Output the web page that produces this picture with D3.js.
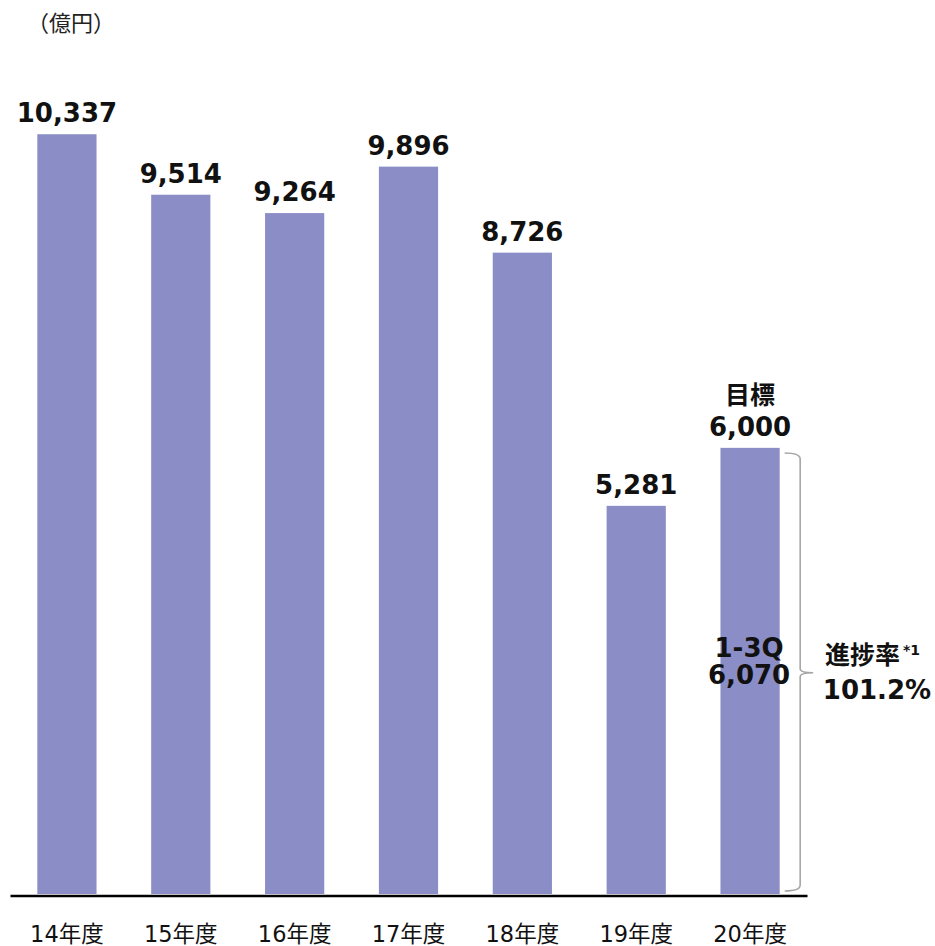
<!DOCTYPE html>
<html>
<head>
<meta charset="utf-8">
<script src="https://cdn.jsdelivr.net/npm/d3@7"></script>
<style>
html,body{margin:0;padding:0;background:#fff;}
svg{display:block;}
</style>
</head>
<body>
<svg id="chart" width="935" height="946"></svg>
<script>
const categories = ["14年度","15年度","16年度","17年度","18年度","19年度","20年度"];
const barValues = [10337, 9514, 9264, 9896, 8726, 5281, 6070];
const valueLabels = ["10,337","9,514","9,264","9,896","8,726","5,281","6,000"];
const targetValue = 6000;
const targetTitle = "目標";
const actualLabel = ["1-3Q", "6,070"];
const progressLabel = ["進捗率", "*1", "101.2%"];
const unitLabel = "（億円）";

(function(){
const svg = d3.select("#chart");
const numFont = "'DejaVu Sans', 'Noto Sans CJK JP', sans-serif";
const cjkFont = "'Noto Sans CJK JP', 'DejaVu Sans', sans-serif";

const x = d3.scaleBand().domain(categories).range([10, 807]).paddingInner(0.48).paddingOuter(0.24);
const y = d3.scaleLinear().domain([0, 12000]).range([894, 12]);

// bars
svg.append("g").selectAll("rect").data(categories).join("rect")
  .attr("x", d => x(d))
  .attr("y", (d,i) => y(barValues[i]))
  .attr("width", x.bandwidth())
  .attr("height", (d,i) => y(0) - y(barValues[i]))
  .attr("fill", "#8b8dc7");

// axis
const xAxis = d3.axisBottom(x).tickSize(0).tickPadding(36);
const ax = svg.append("g").attr("transform", `translate(0,${y(0)+1.5})`).call(xAxis);
ax.select(".domain").attr("stroke", "#000").attr("stroke-width", 2.5);
ax.selectAll(".tick text")
  .attr("font-family", numFont)
  .attr("font-size", 22.5)
  .attr("fill", "#111")
  .attr("dy", "0.45em");

// value labels
svg.append("g").selectAll("text").data(categories).join("text")
  .attr("x", d => x(d) + x.bandwidth()/2)
  .attr("y", (d,i) => y(barValues[i]) - 12)
  .attr("text-anchor", "middle")
  .attr("font-family", numFont)
  .attr("font-weight", "bold")
  .attr("font-size", 26)
  .attr("fill", "#111")
  .text((d,i) => valueLabels[i]);

const lastCat = categories[categories.length-1];
const cx = x(lastCat) + x.bandwidth()/2;

// target title
svg.append("text")
  .attr("x", cx).attr("y", 404)
  .attr("text-anchor", "middle")
  .attr("font-family", cjkFont).attr("font-weight", "bold").attr("font-size", 25)
  .attr("fill", "#111").text(targetTitle);

// actual label inside bar
svg.append("text")
  .attr("x", cx - 1).attr("y", 657)
  .attr("text-anchor", "middle")
  .attr("font-family", numFont).attr("font-weight", "bold").attr("font-size", 26)
  .attr("fill", "#111").text(actualLabel[0]);
svg.append("text")
  .attr("x", cx - 1).attr("y", 684)
  .attr("text-anchor", "middle")
  .attr("font-family", numFont).attr("font-weight", "bold").attr("font-size", 26)
  .attr("fill", "#111").text(actualLabel[1]);

// bracket
const bx0 = x(lastCat) + x.bandwidth() + 5;
const bx1 = bx0 + 15.5;
const yTop = y(targetValue);
const yBot = y(0) - 3;
const yMid = 672.7;
const p = d3.path();
p.moveTo(bx0, yTop);
p.quadraticCurveTo(bx1, yTop, bx1, yTop + 6);
p.lineTo(bx1, yMid - 4);
p.quadraticCurveTo(bx1, yMid, bx1 + 13, yMid);
p.quadraticCurveTo(bx1, yMid, bx1, yMid + 4);
p.lineTo(bx1, yBot - 6);
p.quadraticCurveTo(bx1, yBot, bx0, yBot);
svg.append("path").attr("d", p.toString())
  .attr("fill", "none").attr("stroke", "#a6a6a6").attr("stroke-width", 1.6);

// progress label
const pt = svg.append("text")
  .attr("x", 825).attr("y", 664)
  .attr("font-family", cjkFont).attr("font-weight", "bold").attr("font-size", 25)
  .attr("fill", "#111");
pt.append("tspan").text(progressLabel[0]);
pt.append("tspan").attr("font-size", 14).attr("dy", -9).attr("font-family", numFont).attr("dx", 3).text(progressLabel[1]);
svg.append("text")
  .attr("x", 877).attr("y", 699)
  .attr("text-anchor", "middle")
  .attr("font-family", numFont).attr("font-weight", "bold").attr("font-size", 26)
  .attr("fill", "#111").text(progressLabel[2]);

// unit label
svg.append("text")
  .attr("x", 27).attr("y", 31)
  .attr("font-family", cjkFont).attr("font-size", 22)
  .attr("fill", "#222").text(unitLabel);
})();
</script>
</body>
</html>
